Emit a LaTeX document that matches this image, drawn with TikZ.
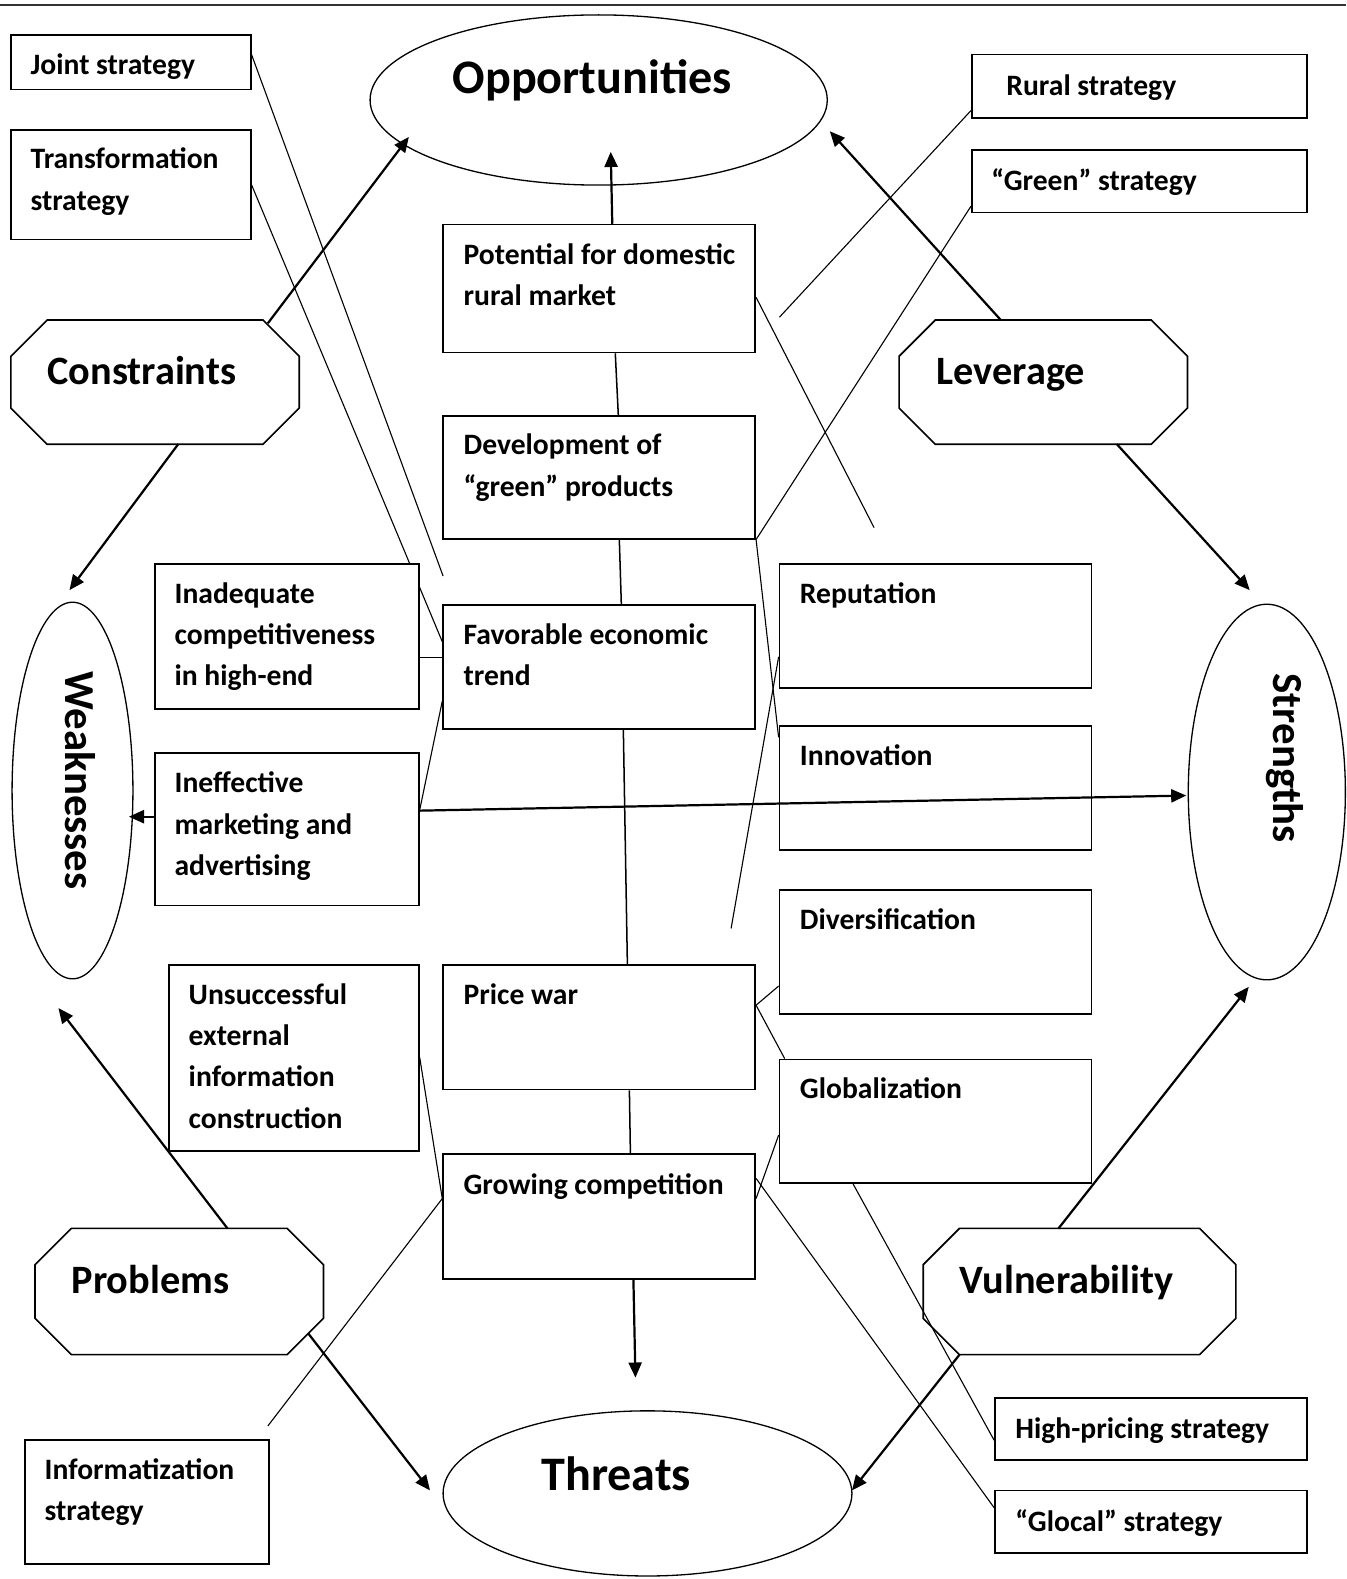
\documentclass[tikz,border=0pt]{standalone}
\usepackage{fontspec}
\setmainfont{Carlito}
\usetikzlibrary{arrows.meta,calc,shapes.geometric}
\pgfdeclarelayer{bg}
\pgfsetlayers{bg,main}
\newcommand\drawoct[2]{%
  \draw[octline] ($(#1.north west)+(#2,0)$) -- ($(#1.north east)+(-#2,0)$) -- ($(#1.north east)+(0,#2)$) -- ($(#1.south east)+(0,-#2)$) -- ($(#1.south east)+(-#2,0)$) -- ($(#1.south west)+(#2,0)$) -- ($(#1.south west)+(0,-#2)$) -- ($(#1.north west)+(0,#2)$) -- cycle;}
\newcommand\boxtext[1]{\parbox[t]{330pt}{\raggedright #1}}
\begin{document}
\begin{tikzpicture}[x=1pt,y=-1pt,
  box/.style={draw, line width=1.6pt, fill=white, inner sep=0pt, rectangle},
  lbl/.style={anchor=base west, inner sep=0pt, font=\bfseries\fontsize{29.4}{41}\selectfont},
  ell/.style={draw, line width=1.3pt, ellipse, inner sep=0pt},
  octn/.style={rectangle, inner sep=0pt},
  octline/.style={line width=1.6pt, line join=miter},
  bigl/.style={font=\bfseries\fontsize{47.8}{56}\selectfont, inner sep=0pt, anchor=base},
  midl/.style={font=\bfseries\fontsize{40}{47}\selectfont, inner sep=0pt, anchor=base west},
  rotl/.style={font=\bfseries\fontsize{42.5}{50}\selectfont, inner sep=0pt, anchor=base, rotate=-90},
  arr/.style={line width=2.2pt, -{Triangle[length=15pt,width=13pt]}},
  conn/.style={line width=1.1pt},
]
\useasboundingbox (0,0) rectangle (1337,1568);
\draw[line width=2.2pt, black!80] (0,5) -- (1337,5);

% ellipses
\node[ell, minimum width=454pt, minimum height=169pt] (opp) at (594.5,99.3) {};
\node[ell, minimum width=406pt, minimum height=164pt] (thr) at (643,1483) {};
\node[ell, minimum width=120pt, minimum height=374pt] (weak) at (72,785) {};
\node[ell, minimum width=156pt, minimum height=373pt] (stren) at (1258,786.5) {};
\node[bigl] (oppT) at (588,93) {Opportunities};
\node[bigl] (thrT) at (612,1480) {Threats};
\node[rotl] (weakT) at (65,775) {Weaknesses};
\node[rotl] (strenT) at (1265,753) {Strengths};

% octagons
\node[octn, minimum width=286pt, minimum height=123pt] (constr) at (154,379.5) {};
\node[octn, minimum width=286pt, minimum height=123pt] (lever) at (1036,379.5) {};
\node[octn, minimum width=286pt, minimum height=125pt] (probl) at (178,1282.5) {};
\node[octn, minimum width=310pt, minimum height=125pt] (vuln) at (1072,1282.5) {};
\drawoct{constr}{36}
\drawoct{lever}{36}
\drawoct{probl}{36}
\drawoct{vuln}{36}
\node[midl] (constrT) at (47,382) {Constraints};
\node[midl] (leverT) at (930,382) {Leverage};
\node[midl] (problT) at (71,1284) {Problems};
\node[midl] (vulnT) at (953,1284) {Vulnerability};

% boxes
\node[box, minimum width=238pt, minimum height=54pt] (joint) at (130,62) {};
\node[box, minimum width=238pt, minimum height=109pt] (transf) at (130,183.5) {};
\node[box, minimum width=333pt, minimum height=63pt] (rural) at (1131.5,85.5) {};
\node[box, minimum width=333pt, minimum height=62pt] (green) at (1131.5,180) {};
\node[box, minimum width=310pt, minimum height=127pt] (pot) at (595,286.5) {};
\node[box, minimum width=310pt, minimum height=122pt] (dev) at (595,474) {};
\node[box, minimum width=262pt, minimum height=144pt] (inad) at (285,632) {};
\node[box, minimum width=310pt, minimum height=123pt] (fav) at (595,662.5) {};
\node[box, minimum width=310pt, minimum height=123pt] (rep) at (929,621.5) {};
\node[box, minimum width=262pt, minimum height=151pt] (inef) at (285,823.5) {};
\node[box, minimum width=310pt, minimum height=123pt] (innov) at (929,782.5) {};
\node[box, minimum width=310pt, minimum height=123pt] (divers) at (929,945.5) {};
\node[box, minimum width=248pt, minimum height=185pt] (unsucc) at (292,1050.5) {};
\node[box, minimum width=310pt, minimum height=124pt] (price) at (595,1020) {};
\node[box, minimum width=310pt, minimum height=123pt] (glob) at (929,1113.5) {};
\node[box, minimum width=310pt, minimum height=124pt] (grow) at (595,1208) {};
\node[box, minimum width=242pt, minimum height=123pt] (informat) at (146,1491.5) {};
\node[box, minimum width=310pt, minimum height=62pt] (highp) at (1143,1419) {};
\node[box, minimum width=310pt, minimum height=62pt] (glocal) at (1143,1511) {};

% box texts (anchored at first baseline)
\node[lbl] (jointT) at ($(joint.north west)+(20,40)$) {\boxtext{Joint strategy}};
\node[lbl] (transfT) at ($(transf.north west)+(20,39.5)$) {\boxtext{Transformation\\strategy}};
\node[lbl] (ruralT) at ($(rural.north west)+(35,42)$) {\boxtext{Rural strategy}};
\node[lbl] (greenT) at ($(green.north west)+(20,41)$) {\boxtext{“Green” strategy}};
\node[lbl] (potT) at ($(pot.north west)+(21,40)$) {\boxtext{Potential for domestic\\rural market}};
\node[lbl] (devT) at ($(dev.north west)+(21,39.5)$) {\boxtext{Development of\\“green” products}};
\node[lbl] (inadT) at ($(inad.north west)+(20,40)$) {\boxtext{Inadequate\\competitiveness\\in high-end}};
\node[lbl] (favT) at ($(fav.north west)+(21,40)$) {\boxtext{Favorable economic\\trend}};
\node[lbl] (repT) at ($(rep.north west)+(21,40)$) {\boxtext{Reputation}};
\node[lbl] (inefT) at ($(inef.north west)+(20,40)$) {\boxtext{Ineffective\\marketing and\\advertising}};
\node[lbl] (innovT) at ($(innov.north west)+(21,40)$) {\boxtext{Innovation}};
\node[lbl] (diversT) at ($(divers.north west)+(21,40)$) {\boxtext{Diversification}};
\node[lbl] (unsuccT) at ($(unsucc.north west)+(20,40)$) {\boxtext{Unsuccessful\\external\\information\\construction}};
\node[lbl] (priceT) at ($(price.north west)+(21,40)$) {\boxtext{Price war}};
\node[lbl] (globT) at ($(glob.north west)+(21,40)$) {\boxtext{Globalization}};
\node[lbl] (growT) at ($(grow.north west)+(21,41)$) {\boxtext{Growing competition}};
\node[lbl] (informatT) at ($(informat.north west)+(20,40)$) {\boxtext{Informatization\\strategy}};
\node[lbl] (highpT) at ($(highp.north west)+(21,41)$) {\boxtext{High-pricing strategy}};
\node[lbl] (glocalT) at ($(glocal.north west)+(21,42)$) {\boxtext{“Glocal” strategy}};

% free ends
\coordinate (jend) at (440,572);
\coordinate (potend) at (868,524);
\coordinate (ruralend) at (774,315);
\coordinate (repend) at (726,922);
\coordinate (infend) at (266,1416);

% thin connectors (behind boxes)
\begin{pgfonlayer}{bg}
\draw[conn] ($(joint.north east)+(0,20)$) -- (jend);
\draw[conn] (transf.east) -- ($(fav.north west)+(0,37)$);
\draw[conn] ($(inad.north east)+(0,94)$) -- ($(fav.north west)+(0,53)$);
\draw[conn] ($(fav.north west)+(0,96)$) -- ($(inef.north east)+(0,57)$);
\draw[conn] ($(pot.north east)+(0,73)$) -- (potend);
\draw[conn] ($(rural.south west)+(0,-8)$) -- (ruralend);
\draw[conn] ($(green.south west)+(0,-7)$) -- (dev.south east);
\draw[conn] (dev.south east) -- ($(innov.north west)+(0,12)$);
\draw[conn] ($(rep.north west)+(0,93)$) -- (repend);
\draw[conn] ($(price.north east)+(0,41)$) -- ($(divers.north west)+(0,96)$);
\draw[conn] ($(price.north east)+(0,41)$) -- ($(glob.north west)+(6,0)$);
\draw[conn] ($(grow.north east)+(0,45)$) -- ($(glob.north west)+(0,76)$);
\draw[conn] ($(grow.north east)+(0,25)$) -- ($(glocal.north west)+(0,18)$);
\draw[conn] ($(glob.south west)+(74,0)$) -- ($(highp.north west)+(0,43)$);
\draw[conn] ($(unsucc.north east)+(0,93)$) -- ($(grow.north west)+(0,45)$);
\draw[conn] (infend) -- ($(grow.north west)+(0,45)$);
% vertical chain
\draw[conn, line width=1.5pt] ($(pot.south)+(16,0)$) -- ($(dev.north)+(19,0)$);
\draw[conn, line width=1.5pt] ($(dev.south)+(20,0)$) -- ($(fav.north)+(22,0)$);
\draw[conn, line width=1.5pt] ($(fav.south)+(24,0)$) -- ($(price.north)+(28,0)$);
\draw[conn, line width=1.5pt] ($(price.south)+(30,0)$) -- ($(grow.north)+(31,0)$);
\end{pgfonlayer}

% arrows
\draw[arr] ($(pot.north)+(13,0)$) -- ($(opp.center)+(12,51.5)$);
\draw[arr] ($(constr.center)+(112,-58.5)$) -- ($(opp.center)+(-188.5,36.7)$);
\draw[arr] ($(lever.center)+(-42,-61.5)$) -- ($(opp.center)+(229.5,31)$);
\draw[arr] ($(constr.center)+(23,61.5)$) -- ($(weak.center)+(-3,-199)$);
\draw[arr] ($(lever.center)+(73,61.5)$) -- ($(stren.center)+(-17,-200.5)$);
\draw[arr] ($(probl.center)+(48,-62.5)$) -- ($(weak.center)+(-14,216)$);
\draw[arr] ($(probl.center)+(128,41.5)$) -- ($(thr.center)+(-216,-3)$);
\draw[arr] ($(vuln.center)+(-21,-62.5)$) -- ($(stren.center)+(-18,193.5)$);
\draw[arr] ($(vuln.center)+(-119,62.5)$) -- ($(thr.center)+(203,-3)$);
\draw[arr] ($(grow.south)+(34,0)$) -- ($(thr.center)+(-12,-115)$);
\draw[arr] ($(inef.west)+(0,-12.5)$) -- ($(weak.center)+(56,26)$);
\draw[arr] ($(inef.east)+(0,-18.5)$) -- ($(stren.center)+(-80,3.5)$);
\end{tikzpicture}
\end{document}
